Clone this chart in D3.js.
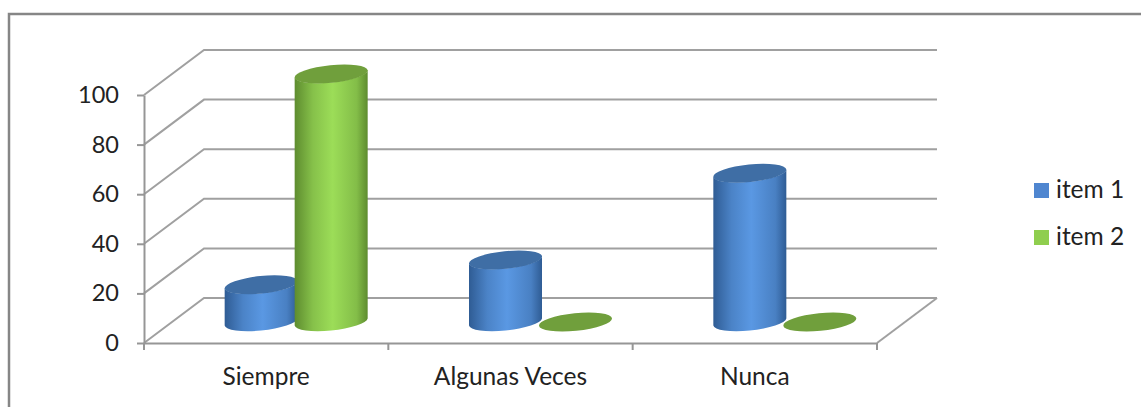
<!DOCTYPE html>
<html>
<head>
<meta charset="utf-8">
<script src="https://cdn.jsdelivr.net/npm/d3@7"></script>
<style>
  html, body { margin: 0; padding: 0; background: #fff; overflow: hidden; }
  text { font-family: Lato, "Open Sans", sans-serif; fill: #222; }
  .axis path, .axis line { stroke: #969696; stroke-width: 2; }
  .grid { stroke: #a0a0a0; stroke-width: 2; fill: none; }
</style>
</head>
<body>
<svg id="chart" width="1141" height="407"></svg>
<script>
var categories = ['Siempre', 'Algunas Veces', 'Nunca'];
var seriesNames = ['item 1', 'item 2'];
var item1 = [15, 25, 60];
var item2 = [100, 0, 0];
var yTicks = [0, 20, 40, 60, 80, 100];

var svg = d3.select('#chart');

// front plane of the 3d box, the back wall sits at +depthX / -depthY
var depthX = 60, depthY = 45;
var x = d3.scaleBand().domain(categories).range([144, 877]);
var y = d3.scaleLinear().domain([0, 100]).range([343, 95]);
var x2 = d3.scaleBand().domain(seriesNames).range([-70, 70]);

// bars stand about halfway along the depth of the floor
var barDx = 30, barDy = -21;
var a = 36.7, b = 8.8, tilt = -5.8;
var edgeX = 36.5, edgeY = 3.5;

var colors = {
  'item 1': { top: '#3f6ea5', dark: '#2f5c94', mid: '#5a98e3', legend: '#4f86d0' },
  'item 2': { top: '#709f3c', dark: '#5e8c2f', mid: '#9cdd58', legend: '#8fce4e' }
};

var defs = svg.append('defs');
seriesNames.forEach(function(name, i) {
  var g = defs.append('linearGradient').attr('id', 'side' + i);
  g.append('stop').attr('offset', '0%').attr('stop-color', colors[name].dark);
  g.append('stop').attr('offset', '25%').attr('stop-color', d3.interpolateRgb(colors[name].dark, colors[name].mid)(0.65));
  g.append('stop').attr('offset', '52%').attr('stop-color', colors[name].mid);
  g.append('stop').attr('offset', '85%').attr('stop-color', d3.interpolateRgb(colors[name].dark, colors[name].mid)(0.6));
  g.append('stop').attr('offset', '100%').attr('stop-color', colors[name].dark);
});

// chart frame, runs off the right and bottom of the window
svg.append('rect')
  .attr('x', 9).attr('y', 14)
  .attr('width', 1160).attr('height', 420)
  .attr('fill', '#fff').attr('stroke', '#868686').attr('stroke-width', 2.5);

// gridlines: diagonal on the side wall then across the back wall
var right = x.range()[1], left = x.range()[0];
svg.selectAll('.grid.wall')
  .data(yTicks)
  .enter().append('path')
    .attr('class', 'grid wall')
    .attr('d', function(t) {
      return 'M' + left + ',' + y(t) +
             'L' + (left + depthX) + ',' + (y(t) - depthY) +
             'L' + (right + depthX) + ',' + (y(t) - depthY);
    });

// right edge of the floor
svg.append('line')
  .attr('class', 'grid')
  .attr('x1', right).attr('y1', y(0))
  .attr('x2', right + depthX).attr('y2', y(0) - depthY);

var yAxis = d3.axisLeft(y).tickValues(yTicks).tickSize(7).tickSizeOuter(0).tickPadding(18);
var yG = svg.append('g')
  .attr('class', 'axis')
  .attr('transform', 'translate(' + left + ',0)')
  .call(yAxis);
yG.selectAll('text').attr('font-size', 23.5);

var xAxis = d3.axisBottom(x).tickValues([]).tickSize(0).tickSizeOuter(0);
var xG = svg.append('g')
  .attr('class', 'axis')
  .attr('transform', 'translate(0,' + y(0) + ')')
  .call(xAxis);

// category separators
var sepX = categories.map(function(c) { return x(c); }).concat([right]);
xG.selectAll('.sep')
  .data(sepX)
  .enter().append('line')
    .attr('class', 'sep')
    .attr('x1', function(d) { return d; }).attr('x2', function(d) { return d; })
    .attr('y1', 0).attr('y2', 7);

xG.selectAll('.cat')
  .data(categories)
  .enter().append('text')
    .attr('class', 'cat')
    .attr('x', function(c) { return x(c) + x.bandwidth() / 2; })
    .attr('y', 42)
    .attr('text-anchor', 'middle')
    .attr('font-size', 24.5)
    .text(function(c) { return c; });

// cylinders
function sidePath(cx, yTop, yBase) {
  return 'M' + (cx - edgeX) + ',' + (yTop + edgeY) +
    'L' + (cx - edgeX) + ',' + (yBase + edgeY) +
    'A' + a + ',' + b + ' ' + tilt + ' 0 0 ' + (cx + edgeX) + ',' + (yBase - edgeY) +
    'L' + (cx + edgeX) + ',' + (yTop - edgeY) +
    'A' + a + ',' + b + ' ' + tilt + ' 0 1 ' + (cx - edgeX) + ',' + (yTop + edgeY) + 'Z';
}

var values = [item1, item2];
categories.forEach(function(cat, ci) {
  var bars = seriesNames.map(function(name, si) {
    return { name: name, si: si, value: values[si][ci] };
  });
  // shorter cylinder first, so it ends up behind
  bars.sort(function(p, q) { return p.value - q.value; });

  bars.forEach(function(d) {
    var cx = x(cat) + x.bandwidth() / 2 + barDx + x2(d.name) + x2.bandwidth() / 2;
    var yTop = y(d.value) + barDy;
    var yBase = y(0) + barDy;
    if (d.value > 0) {
      svg.append('path')
        .attr('d', sidePath(cx, yTop, yBase))
        .attr('fill', 'url(#side' + d.si + ')');
    }
    svg.append('ellipse')
      .attr('rx', a).attr('ry', b)
      .attr('transform', 'translate(' + cx + ',' + yTop + ') rotate(' + tilt + ')')
      .attr('fill', colors[d.name].top);
  });
});

// legend
var legend = svg.selectAll('.legend')
  .data(seriesNames)
  .enter().append('g')
    .attr('class', 'legend')
    .attr('transform', function(d, i) { return 'translate(1034,' + (183 + i * 47) + ')'; });
legend.append('rect')
  .attr('width', 15).attr('height', 15)
  .attr('fill', function(d) { return colors[d].legend; });
legend.append('text')
  .attr('x', 22).attr('y', 15)
  .attr('font-size', 24.5)
  .text(function(d) { return d; });
</script>
</body>
</html>
